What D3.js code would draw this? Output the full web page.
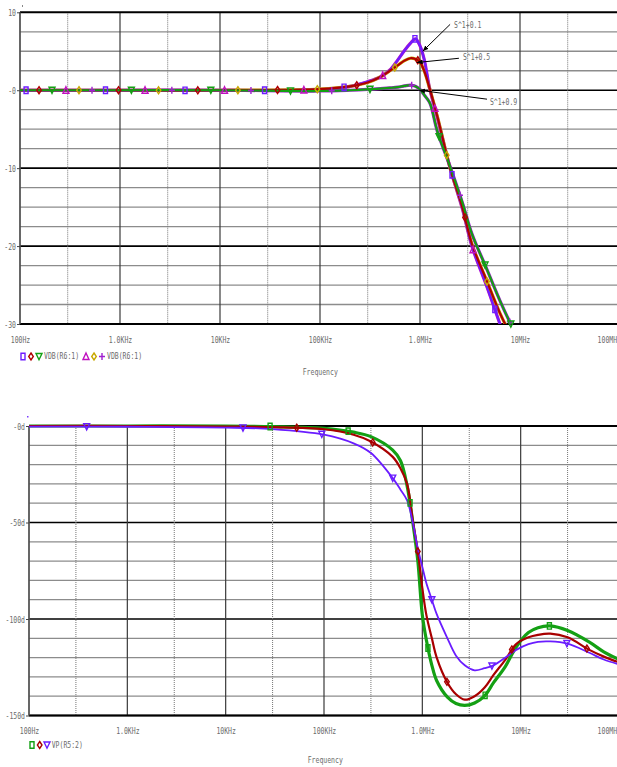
<!DOCTYPE html>
<html>
<head>
<meta charset="utf-8">
<title>VDB / VP sweep</title>
<script src="https://cdnjs.cloudflare.com/ajax/libs/d3/7.8.5/d3.min.js"></script>
<style>
  body { margin: 0; background: #fff; }
  svg { display: block; }
</style>
</head>
<body>
<div id="chart"></div>
<script>
const W = 617, H = 767;

// ---- top plot: VDB(R6:1), three parameter steps, traced twice ----
const fTop = [1e2, 1e3, 1e4, 1e5, 2e5, 3e5, 4e5, 5e5, 6e5, 7e5, 8e5, 9e5, 1e6, 1.1e6, 1.25e6, 1.5e6, 2e6, 2.65e6, 3.3e6, 4.6e6, 6.3e6, 8.1e6, 1e7];
const vdb01 = [0, 0, 0, 0.1, 0.5, 1.1, 1.7, 2.6, 3.9, 5.1, 6.0, 6.6, 5.7, 4.0, 0.2, -3.6, -10, -15.2, -20, -25, -30, -34, -37];
const vdb05 = [0, 0, 0, 0.15, 0.5, 1.0, 1.7, 2.5, 3.2, 3.8, 4.1, 4.0, 3.6, 2.5, 0.2, -3.5, -10, -15, -19.7, -24.3, -28.6, -31.5, -34];
const vdb09 = [0, 0, 0, -0.1, 0, 0.1, 0.2, 0.3, 0.4, 0.55, 0.65, 0.5, 0.1, -0.6, -1.6, -5.4, -9.8, -14.4, -18.4, -22.8, -27, -30, -32];
const topYTicks = [10, 0, -10, -20, -30];
const topYLabels = ["10", "-0", "-10", "-20", "-30"];

// where the trace markers sit (frequency)
const mkBlue = [115, 716, 4.47e3, 2.79e4, 1.74e5, 8.9e5, 2.09e6, 5.6e6];
const mkRed = [155, 966, 6.0e3, 3.76e4, 2.33e5, 9.5e5, 2.82e6];
const mkGreen = [209, 1.3e3, 8.1e3, 5.07e4, 3.16e5, 1.55e6, 4.47e6, 8.1e6];
const mkMagTri = [288, 1.78e3, 1.11e4, 6.9e4, 4.24e5, 1.41e6, 3.39e6];
const mkOlive = [389, 2.43e3, 1.51e4, 9.4e4, 5.6e5, 1.85e6, 4.68e6];
const mkPlus = [525, 3.3e3, 2.04e4, 1.31e5, 8.26e5, 2.51e6, 7.9e6];

// annotations
const annText = ["S^1+0.1", "S^1+0.5", "S^1+0.9"];
const annTipF = [1.064e6, 9.27e5, 9.77e5];
const annTipV = [5.0, 3.55, 0];
const annTailF = [2.0e6, 2.45e6, 4.68e6];
const annTailV = [8.45, 4.1, -1.15];
const annTextF = [2.19e6, 2.69e6, 5.0e6];
const annTextV = [8.0, 3.85, -1.9];

// ---- bottom plot: VP(R5:2) ----
const fBot = [1e2, 1e3, 1e4, 3e4, 1e5, 2e5, 3e5, 5e5, 6e5, 7e5, 8e5, 9e5, 1e6, 1.1e6, 1.25e6, 1.4e6, 1.8e6, 2.2e6, 2.7e6, 3.4e6, 4.3e6, 5.3e6, 7e6, 9e6, 1.2e7, 1.5e7, 2e7, 3e7, 5e7, 7e7, 1e8];
const vpGreen = [0, 0, 0, -0.3, -1.2, -3.2, -5.5, -12.5, -18, -31, -50, -70, -98, -111, -124, -132, -140.5, -143.8, -144.8, -143.5, -139.8, -133, -124.5, -114.5, -107, -104.5, -103.6, -106, -112, -117, -121];
const vpRed = [0, 0, -0.3, -0.6, -1.7, -4.5, -8, -16, -22, -30, -49, -65, -84, -98, -110, -120, -133, -139, -141.8, -140, -135.5, -129, -121, -113, -109.5, -108.2, -107.6, -109.5, -116, -119.5, -122.5];
const vpPurple = [-0.3, -0.4, -0.8, -1.6, -4.5, -9, -14, -27, -33, -38.5, -50, -63.5, -73, -81.5, -90, -97.5, -110, -119, -124, -126.6, -125.5, -124, -120, -116, -113, -111.8, -111.6, -112.8, -117.5, -121, -123.5];
const botYTicks = [0, -50, -100, -150];
const botYLabels = ["-0d", "-50d", "-100d", "-150d"];
const mkBotGreen = [2.83e4, 1.76e5, 7.5e5, 1.14e6, 4.35e6, 1.96e7];
const mkBotRed = [5.28e4, 3.13e5, 9.0e5, 1.78e6, 8.13e6, 4.72e7];
const mkBotPurple = [386, 1.5e4, 9.5e4, 5.0e5, 1.25e6, 5.1e6, 2.95e7];

const decades = [1e2, 1e3, 1e4, 1e5, 1e6, 1e7, 1e8];
const thirds = [3e2, 3e3, 3e4, 3e5, 3e6, 3e7];
const xLabels = ["100Hz", "1.0KHz", "10KHz", "100KHz", "1.0MHz", "10MHz", "100MHz"];

const FONT = "'DejaVu Sans Mono', 'Liberation Mono', monospace";
const CHW = 3.9; // compressed char width of the plot font

const svg = d3.select('#chart').append('svg').attr('width', W).attr('height', H);

svg.append('defs').append('marker')
  .attr('id', 'arr').attr('viewBox', '0 0 10 10').attr('refX', 10).attr('refY', 5)
  .attr('markerWidth', 6).attr('markerHeight', 6).attr('orient', 'auto')
  .append('path').attr('d', 'M0,1 L10,5 L0,9 Z').attr('fill', '#000');

function squeeze(sel) {
  sel.attr('font-family', FONT).attr('font-size', 9.5).attr('fill', '#6b6b6b')
    .each(function () {
      const t = d3.select(this).text();
      d3.select(this).attr('textLength', t.length * CHW).attr('lengthAdjust', 'spacingAndGlyphs');
    });
}

function label(g, x, y, str, anchor) {
  g.append('text').attr('x', x).attr('y', y).attr('text-anchor', anchor || 'start')
    .attr('dominant-baseline', 'middle').text(str).call(squeeze);
}

function drawMarker(g, type, x, y, color) {
  let p;
  if (type === 'square') p = `M${x - 2},${y - 3.2}h4v6.4h-4Z`;
  else if (type === 'diamond') p = `M${x},${y - 3.5}L${x + 2.3},${y}L${x},${y + 3.5}L${x - 2.3},${y}Z`;
  else if (type === 'tridown') p = `M${x - 3},${y - 3}L${x + 3},${y - 3}L${x},${y + 3.2}Z`;
  else if (type === 'triup') p = `M${x},${y - 3.5}L${x + 3},${y + 3}L${x - 3},${y + 3}Z`;
  else p = `M${x - 3},${y}H${x + 3}M${x},${y - 3.5}V${y + 3.5}`;
  g.append('path').attr('d', p).attr('stroke', color).attr('stroke-width', 1.4).attr('fill', 'none');
}

// y of a drawn (x-monotone) path at a given x
function yAt(node, x) {
  let lo = 0, hi = node.getTotalLength();
  for (let i = 0; i < 30; i++) {
    const mid = (lo + hi) / 2;
    if (node.getPointAtLength(mid).x < x) lo = mid; else hi = mid;
  }
  return node.getPointAtLength(lo).y;
}

function plot(cfg) {
  const { x, y, top, bottom, left, id } = cfg;
  const g = svg.append('g');

  // horizontal grid
  cfg.hTicks.forEach(v => {
    const major = v % cfg.major === 0;
    g.append('line').attr('x1', left).attr('x2', W).attr('y1', y(v)).attr('y2', y(v))
      .attr('stroke', major ? '#000' : '#8c8c8c').attr('stroke-width', major ? 1.6 : 1.3);
  });
  // vertical grid
  thirds.forEach(f => {
    g.append('line').attr('x1', x(f)).attr('x2', x(f)).attr('y1', top).attr('y2', bottom)
      .attr('stroke', '#777').attr('stroke-width', 1).attr('stroke-dasharray', '1,1');
  });
  decades.forEach(f => {
    g.append('line').attr('x1', x(f)).attr('x2', x(f)).attr('y1', top).attr('y2', bottom)
      .attr('stroke', '#3a3a3a').attr('stroke-width', 1.2);
  });
  // frame
  g.append('line').attr('x1', left).attr('x2', W).attr('y1', top).attr('y2', top).attr('stroke', '#000').attr('stroke-width', 1.8);
  g.append('line').attr('x1', left).attr('x2', W).attr('y1', bottom).attr('y2', bottom).attr('stroke', '#000').attr('stroke-width', 2);
  g.append('line').attr('x1', left).attr('x2', left).attr('y1', top).attr('y2', bottom).attr('stroke', '#555').attr('stroke-width', 1.3);

  // axes (labels only, grid drawn above)
  const ya = g.append('g').attr('transform', `translate(${left},0)`)
    .call(d3.axisLeft(y).tickValues(cfg.yTicks).tickSize(3).tickPadding(1)
      .tickFormat((d, i) => cfg.yLabels[i]));
  ya.select('.domain').remove();
  ya.selectAll('line').attr('stroke', '#444');
  ya.selectAll('text').call(squeeze);

  const xa = g.append('g').attr('transform', `translate(0,${bottom})`)
    .call(d3.axisBottom(x).tickValues(decades).tickSize(0).tickPadding(12)
      .tickFormat((d, i) => xLabels[i]));
  xa.select('.domain').remove();
  xa.selectAll('text').call(squeeze);
  // last label runs off the window edge, as in the original capture
  xa.selectAll('.tick').each(function (d) {
    const t = d3.select(this).select('text');
    const half = t.text().length * CHW / 2;
    const cx = x(d);
    if (cx + half > W + 3.5) t.attr('x', W + 3.5 - half - cx);
  });

  // traces
  g.append('clipPath').attr('id', id).append('rect')
    .attr('x', left).attr('y', top - 4).attr('width', W - left).attr('height', bottom - top + 4);
  const lines = g.append('g').attr('clip-path', `url(#${id})`);
  const mk = g.append('g');
  const gen = d3.line().x(d => x(d[0])).y(d => y(d[1])).curve(d3.curveCatmullRom.alpha(0.5));
  cfg.series.forEach(s => {
    const pts = cfg.freqs.map((f, i) => [f, s.values[i]]);
    const path = lines.append('path').datum(pts).attr('d', gen)
      .attr('fill', 'none').attr('stroke', s.color).attr('stroke-width', s.width)
      .attr('stroke-linejoin', 'round');
    s.marks.forEach(f => {
      const px = x(f), py = yAt(path.node(), px);
      if (py <= bottom + 1) drawMarker(mk, s.shape, px, py, s.color);
    });
  });
  return g;
}

// ---- top ----
const xTop = d3.scaleLog().domain([1e2, 1e8]).range([20, 620]);
const yTop = d3.scaleLinear().domain([-30, 10]).range([324, 12.3]);
const gTop = plot({
  id: 'clipTop', x: xTop, y: yTop, top: 12.3, bottom: 324, left: 20,
  hTicks: d3.range(-30, 10.01, 2.5), major: 10, yTicks: topYTicks, yLabels: topYLabels,
  freqs: fTop,
  // second trace drawn first and a bit wider, so it shows as a fringe
  series: [
    { values: vdb01, color: '#c010c0', width: 3.2, shape: 'triup', marks: mkMagTri },
    { values: vdb05, color: '#c8a800', width: 3.2, shape: 'diamond', marks: mkOlive },
    { values: vdb09, color: '#a020d0', width: 3.2, shape: 'plus', marks: mkPlus },
    { values: vdb01, color: '#6f1cff', width: 2.2, shape: 'square', marks: mkBlue },
    { values: vdb05, color: '#b00000', width: 2.2, shape: 'diamond', marks: mkRed },
    { values: vdb09, color: '#12a012', width: 2.2, shape: 'tridown', marks: mkGreen }
  ]
});

// annotations
annText.forEach((t, i) => {
  gTop.append('line')
    .attr('x1', xTop(annTailF[i])).attr('y1', yTop(annTailV[i]))
    .attr('x2', xTop(annTipF[i])).attr('y2', yTop(annTipV[i]))
    .attr('stroke', '#000').attr('stroke-width', 1).attr('marker-end', 'url(#arr)');
  gTop.append('text').attr('x', xTop(annTextF[i])).attr('y', yTop(annTextV[i]))
    .text(t).call(squeeze);
});
gTop.append('rect').attr('x', xTop(1e2) + 2).attr('y', 5).attr('width', 1).attr('height', 2).attr('fill', '#888');

// top legend
const legTop = svg.append('g');
drawMarker(legTop, 'square', 23, 356.5, '#6f1cff');
drawMarker(legTop, 'diamond', 31, 356.5, '#b00000');
drawMarker(legTop, 'tridown', 39, 356.5, '#12a012');
label(legTop, 44, 356.5, 'VDB(R6:1)');
drawMarker(legTop, 'triup', 86, 356.5, '#c010c0');
drawMarker(legTop, 'diamond', 94, 356.5, '#c8a800');
drawMarker(legTop, 'plus', 102, 356.5, '#a020d0');
label(legTop, 107, 356.5, 'VDB(R6:1)');
label(legTop, 302.7, 372, 'Frequency');

// ---- bottom ----
const xBot = d3.scaleLog().domain([1e2, 1e8]).range([29, 619]);
const yBot = d3.scaleLinear().domain([-150, 0]).range([715.5, 426]);
const gBot = plot({
  id: 'clipBot', x: xBot, y: yBot, top: 426, bottom: 715.5, left: 29,
  hTicks: d3.range(-150, 0.01, 10), major: 50, yTicks: botYTicks, yLabels: botYLabels,
  freqs: fBot,
  series: [
    { values: vpGreen, color: '#14a014', width: 3.2, shape: 'square', marks: mkBotGreen },
    { values: vpRed, color: '#a80000', width: 2.2, shape: 'diamond', marks: mkBotRed },
    { values: vpPurple, color: '#6a1cff', width: 1.8, shape: 'tridown', marks: mkBotPurple }
  ]
});
gBot.append('rect').attr('x', xBot(1e2) - 2).attr('y', 416).attr('width', 1.5).attr('height', 1.5).attr('fill', '#7a3cff');

const legBot = svg.append('g');
drawMarker(legBot, 'square', 32, 745, '#14a014');
drawMarker(legBot, 'diamond', 39.7, 745, '#a80000');
drawMarker(legBot, 'tridown', 47, 745, '#6a1cff');
label(legBot, 51.7, 745, 'VP(R5:2)');
label(legBot, 307.7, 760, 'Frequency');
</script>
</body>
</html>
